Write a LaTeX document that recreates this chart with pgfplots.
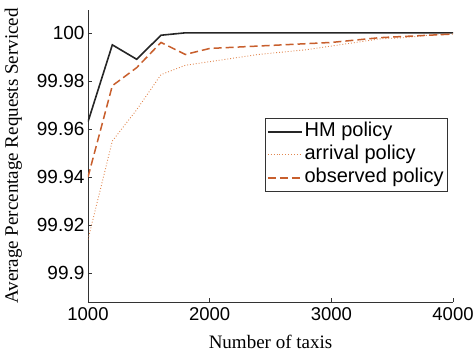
\documentclass[border=0pt]{standalone}
\usepackage{fontspec}
\setmainfont{Liberation Sans}
\newfontfamily\serif{Liberation Serif}
\usepackage{pgfplots}
\pgfplotsset{compat=1.18}
\definecolor{obs}{RGB}{200,95,45}
\definecolor{arr}{RGB}{225,135,80}
\begin{document}
\begin{tikzpicture}
\begin{axis}[name=ax,
  scale only axis, width=365pt, height=292pt,
  xmin=1000, xmax=4000, ymin=99.888, ymax=100.0095,
  axis lines=left, axis line style={-, black!80, line width=0.8pt},
  tick style={black!80, line width=0.6pt}, tick align=inside,
  major tick length=4pt,
  xtick={1000,2000,3000,4000}, ytick={99.9,99.92,99.94,99.96,99.98,100},
  /pgf/number format/assume math mode=true,
  xticklabel style={font=\fontsize{18.5}{21}\selectfont, yshift=-2pt},
  yticklabel style={font=\fontsize{19}{21}\selectfont},
  scaled y ticks=false,
  yticklabel={\pgfmathprintnumber[fixed,precision=2]{\tick}},
  xticklabel={\pgfmathprintnumber[fixed,1000 sep={}]{\tick}},
  xlabel={\serif Number of taxis}, ylabel={\serif Average Percentage Requests Serviced},
  label style={font=\fontsize{19}{21}\selectfont},
  xlabel style={yshift=-8pt}, ylabel style={yshift=8pt},
  legend image code/.code={\draw[#1] plot coordinates {(0pt,0pt) (34pt,0pt)};},
  legend style={at={(0.986,0.630)}, anchor=north east, font=\fontsize{20}{24}\selectfont,
    draw=black!80, line width=0.6pt, inner sep=2pt,
    nodes={inner sep=2pt, text height=14pt, text depth=5pt}},
  legend cell align=left,
]
\addplot[black!85, line width=1.6pt] coordinates {
(1000,99.963) (1200,99.995) (1400,99.989) (1600,99.999) (1800,100) (2000,100) (2400,100) (3000,100) (3500,100) (4000,100)};
\addlegendentry{HM policy}
\addplot[arr, line width=0.9pt, dotted] coordinates {
(1000,99.914) (1200,99.955) (1400,99.968) (1600,99.9826) (1800,99.9865) (2000,99.988) (2200,99.9895) (2400,99.991) (2600,99.992) (2800,99.993) (3000,99.9945) (3200,99.996) (3400,99.9975) (3600,99.998) (3800,99.999) (4000,99.9995)};
\addlegendentry{arrival policy}
\addplot[obs, line width=1.5pt, dash pattern=on 8pt off 4pt] coordinates {
(1000,99.94) (1200,99.978) (1400,99.9855) (1600,99.996) (1800,99.991) (2000,99.9935) (2200,99.994) (2400,99.9945) (2600,99.995) (2800,99.9955) (3000,99.996) (3200,99.997) (3400,99.998) (3600,99.9985) (3800,99.999) (4000,99.9995)};
\addlegendentry{observed policy}
\end{axis}
\pgfresetboundingbox
\path ([shift={(-88pt,-52pt)}]ax.south west) rectangle ([shift={(22pt,10pt)}]ax.north east);
\end{tikzpicture}
\end{document}
